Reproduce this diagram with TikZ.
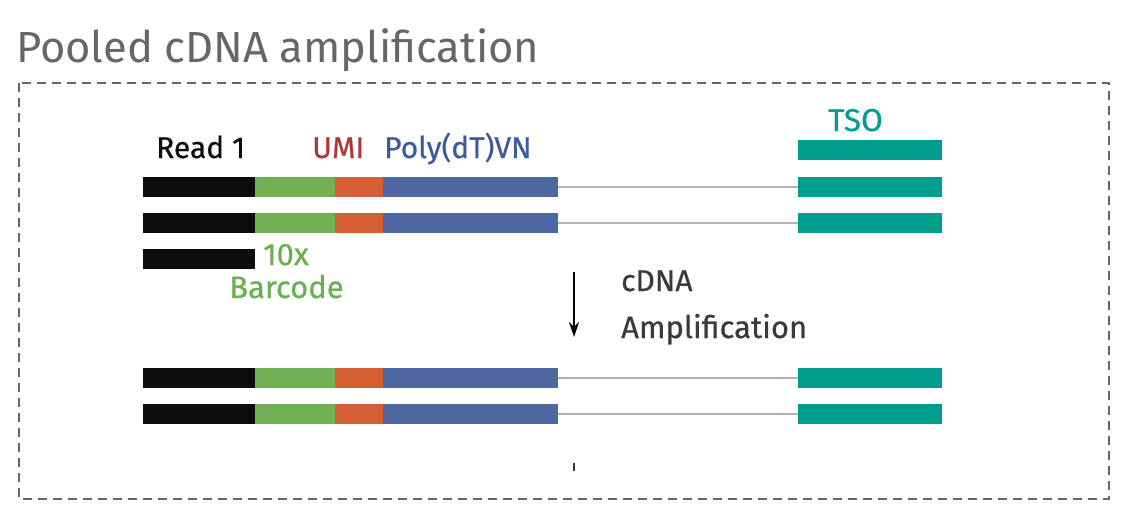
\documentclass[tikz,border=0pt]{standalone}
\usepackage{fontspec}
\setmainfont{Fira Sans}
\newfontfamily\lblfont{Fira Sans}[FakeBold=0.6]
\usetikzlibrary{arrows.meta}
\definecolor{cblack}{HTML}{0D0D0D}
\definecolor{cgreen}{HTML}{72B055}
\definecolor{corange}{HTML}{D45F35}
\definecolor{cblue}{HTML}{4D68A0}
\definecolor{cteal}{HTML}{009E8E}
\definecolor{clink}{HTML}{B4B4B4}
\definecolor{ctitle}{HTML}{666666}
\definecolor{ctext}{HTML}{3A3A3A}
\definecolor{cumi}{HTML}{B03535}
\definecolor{cpoly}{HTML}{3D5A9A}
\definecolor{cbarc}{HTML}{6AAF50}
\tikzset{
  seg/.style={rectangle, inner sep=0pt, outer sep=0pt, minimum height=20pt, anchor=west},
  link/.style={draw=clink, line width=2pt},
  lbl/.style={inner sep=0pt, anchor=base west, font=\lblfont\fontsize{30}{36}\selectfont},
}
\begin{document}
\begin{tikzpicture}[x=1pt,y=-1pt]
\useasboundingbox[fill=white] (0,0) rectangle (1126,520);
% title
\node[inner sep=0pt, anchor=base west, text=ctitle, font=\fontsize{43.5}{50}\selectfont] (title) at (16,62) {Pooled cDNA amplification};
% dashed frame
\draw[ctitle, line width=2pt, dash pattern=on 9pt off 6pt] (19,83) rectangle (1109,499);
% rows
\foreach \r/\y in {a/186.5, b/222.5, c/378, d/414}{
  \node[seg, fill=cblack, minimum width=112pt] (\r k) at (143,\y) {};
  \node[seg, fill=cgreen, minimum width=80pt] (\r g) at (\r k.east) {};
  \node[seg, fill=corange, minimum width=48pt] (\r o) at (\r g.east) {};
  \node[seg, fill=cblue, minimum width=175pt] (\r b) at (\r o.east) {};
  \node[seg, fill=cteal, minimum width=144pt] (\r t) at (798,\y) {};
  \draw[link] (\r b.east) -- (\r t.west);
}
\node[seg, fill=cblack, minimum width=112pt] (ek) at (143,259) {};
\node[seg, fill=cteal, minimum width=144pt] (et) at (798,150) {};
% labels
\node[lbl, text=cblack] (read) at (156,158) {Read 1};
\node[lbl, text=cumi] (umi) at (312,158) {UMI};
\node[lbl, text=cpoly] (poly) at (384,158) {Poly(dT)VN};
\node[lbl, text=cteal, font=\lblfont\fontsize{31.5}{36}\selectfont] (tso) at (828,131) {TSO};
\node[lbl, text=cbarc, font=\lblfont\fontsize{31}{36}\selectfont] (tenx) at (263,265) {10x};
\node[lbl, text=cbarc, font=\lblfont\fontsize{31}{36}\selectfont] (barc) at (229,298) {Barcode};
\node[lbl, text=ctext] (cdna) at (621,291) {cDNA};
\node[lbl, text=ctext, font=\lblfont\fontsize{31}{36}\selectfont] (ampl) at (621,338) {Amplification};
% arrow
\coordinate (as) at (574,272);
\coordinate (ae) at (574,337);
\draw[line width=1.5pt, black, -{Stealth[length=15pt,width=10pt]}] (as) -- (ae);
\coordinate (ts) at (574,463);
\coordinate (te) at (574,471);
\draw[line width=2pt, ctext] (ts) -- (te);
\end{tikzpicture}
\end{document}
